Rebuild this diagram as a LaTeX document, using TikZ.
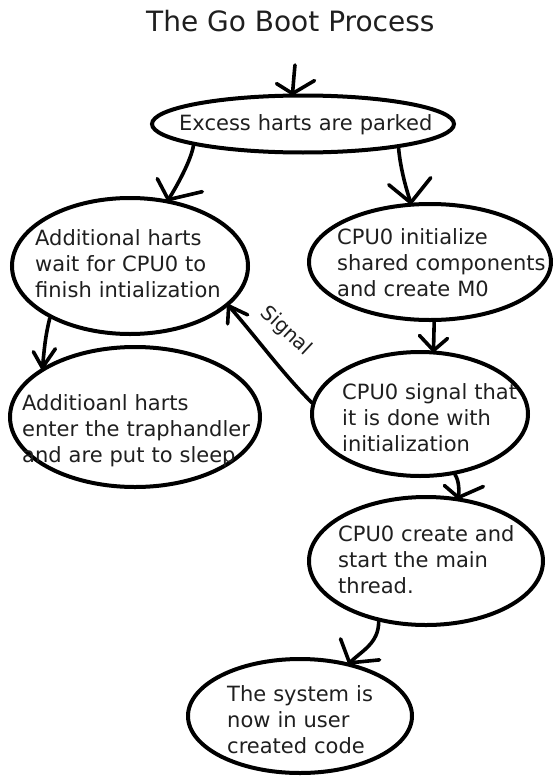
\documentclass[tikz,border=0pt]{standalone}
\usepackage{fontspec}
\setmainfont{DejaVu Sans}
\usetikzlibrary{shapes.geometric}
\begin{document}
\begin{tikzpicture}[x=1pt,y=-1pt,
  blob/.style={draw=black, ellipse, line width=4pt, inner sep=0pt},
  txtblock/.style={anchor=base west, inner sep=0pt, text width=#1, align=left,
    text=black!88, font=\fontsize{21}{26}\selectfont},
  link/.style={line width=3.6pt, line cap=round, line join=round},
]
\fill[white] (0,0) rectangle (552,776);
\useasboundingbox (0,0) rectangle (552,776);

% title
\node[anchor=base west, inner sep=0pt, text=black!88,
  font=\fontsize{28}{34}\selectfont] (title) at (146,32) {The Go Boot Process};

% states
\node[blob, minimum width=302pt, minimum height=57pt]  (e1) at (303,124) {};
\node[blob, minimum width=236pt, minimum height=136pt] (e2) at (130,266) {};
\node[blob, minimum width=242pt, minimum height=116pt] (e3) at (430,262) {};
\node[blob, minimum width=250pt, minimum height=140pt] (e4) at (135,417) {};
\node[blob, minimum width=216pt, minimum height=124pt] (e5) at (420,414) {};
\node[blob, minimum width=234pt, minimum height=128pt] (e6) at (426,561) {};
\node[blob, minimum width=224pt, minimum height=114pt] (e7) at (300,716) {};

% state texts
\node[txtblock=256pt] (t1) at (179,130) {Excess harts are parked};
\node[txtblock=190pt] (t2) at (35,245) {Additional harts\\wait for CPU0 to\\finish intialization};
\node[txtblock=210pt] (t3) at (337,244) {CPU0 initialize\\shared components\\and create M0};
\node[txtblock=230pt] (t4) at (22,410) {Additioanl harts\\enter the traphandler\\and are put to sleep};
\node[txtblock=180pt] (t5) at (342,399) {CPU0 signal that\\it is done with\\initialization};
\node[txtblock=180pt] (t6) at (338,541) {CPU0 create and\\start the main\\thread.};
\node[txtblock=160pt] (t7) at (227,701) {The system is\\now in user\\created code};

% arrow tips on the state borders
\coordinate (entry) at (295,65);
\coordinate (h0) at (e1.109);
\coordinate (h1) at (e2.60);
\coordinate (h2) at (e3.108);
\coordinate (h3) at (e4.152);
\coordinate (h4) at (e5.78);
\coordinate (h5) at (e2.338);
\coordinate (h6) at (e6.63);
\coordinate (h7) at (e7.47);

% entry
\draw[link] (entry) .. controls +(-1,10) and +(1,-12) .. (h0);
\draw[link] ([shift={(-16,-10)}]h0) -- (h0) -- ([shift={(22,-13)}]h0);

% parked -> waiting harts
\draw[link] (e1.191) .. controls +(-2,14) and +(9,-14) .. (h1);
\draw[link] ([shift={(-11,-21)}]h1) -- (h1) -- ([shift={(34,-8)}]h1);

% parked -> CPU0 init
\draw[link] (e1.346) .. controls +(2,22) and +(-4,-12) .. (h2);
\draw[link] ([shift={(-22,-18)}]h2) -- (h2) -- ([shift={(20,-25)}]h2);

% waiting -> sleeping harts
\draw[link] (e2.213) .. controls +(-5,20) and +(2,-18) .. (h3);
\draw[link] ([shift={(-9,-16)}]h3) -- (h3) -- ([shift={(13,-19)}]h3);

% CPU0 init -> CPU0 signal
\draw[link] (e3.274) -- (h4);
\draw[link] ([shift={(-14,-15)}]h4) -- (h4) -- ([shift={(14,-12)}]h4);

% signal back to the waiting harts
\draw[link] (e5.174) .. controls +(-30,-30) and +(25,28) .. (h5);
\draw[link] ([shift={(-1,18)}]h5) -- (h5) -- ([shift={(19,9)}]h5);
\node[text=black!88, font=\fontsize{20}{24}\selectfont, rotate=-43, inner sep=0pt]
  (sig) at (286,331) {Signal};

% CPU0 signal -> main thread
\draw[link] (e5.300) .. controls +(4,6) and +(1,-7) .. (h6);
\draw[link] ([shift={(-14,-12)}]h6) -- (h6) -- ([shift={(25,-11)}]h6);

% main thread -> user code
\draw[link] (e6.232) .. controls +(0,22) and +(12,-12) .. (h7);
\draw[link] ([shift={(-9,-24)}]h7) -- (h7) -- ([shift={(30,-3)}]h7);
\end{tikzpicture}
\end{document}
